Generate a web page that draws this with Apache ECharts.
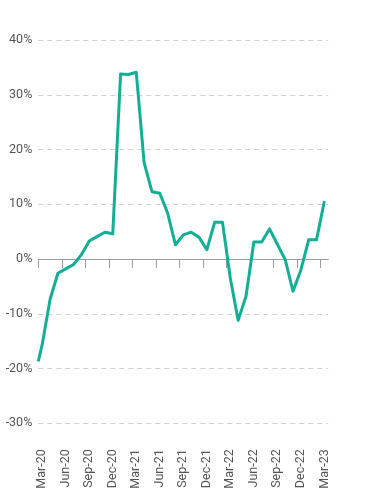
<!DOCTYPE html>
<html>
<head>
<meta charset="utf-8">
<script src="https://cdn.jsdelivr.net/npm/echarts@6/dist/echarts.min.js"></script>
<style>
html,body{margin:0;padding:0;background:#fff;}
#chart{width:368px;height:500px;}
</style>
</head>
<body>
<div id="chart"></div>
<script>
// Monthly tick labels (Mar-20 .. Mar-23)
var months = ['Mar-20','Apr-20','May-20','Jun-20','Jul-20','Aug-20','Sep-20','Oct-20','Nov-20','Dec-20',
  'Jan-21','Feb-21','Mar-21','Apr-21','May-21','Jun-21','Jul-21','Aug-21','Sep-21','Oct-21','Nov-21','Dec-21',
  'Jan-22','Feb-22','Mar-22','Apr-22','May-22','Jun-22','Jul-22','Aug-22','Sep-22','Oct-22','Nov-22','Dec-22',
  'Jan-23','Feb-23','Mar-23'];
// Monthly values (%), one per month above
var values = [-15.6,-7.4,-2.6,-1.8,-1.0,0.8,3.3,4.1,4.9,4.6,
  33.8,33.7,34.1,17.6,12.3,12.0,8.4,2.6,4.4,4.9,4.0,1.7,
  6.7,6.7,-3.5,-11.2,-6.8,3.1,3.1,5.5,2.7,-0.1,-5.9,-2.0,
  3.5,3.5,10.6];
// Value where the line enters the plot at its left edge
var edgeValue = [-18.7];
var yTicks = [-30,-20,-10,0,10,20,30,40];

var nShown = months.length;
var seriesData = [[0, edgeValue[0]]].concat(values.map(function(v,i){ return [i + 0.5, v]; }));
var tickVals = [];
for (var k = 0; k < nShown; k += 3) tickVals.push(k);

var chart = echarts.init(document.getElementById('chart'), null, {renderer:'canvas'});
chart.setOption({
  animation: false,
  backgroundColor: '#ffffff',
  textStyle: {fontFamily: 'Roboto'},
  grid: {left: 38.3, right: 39.7, top: 40, bottom: 76.7, containLabel: false, outerBoundsMode: 'none'},
  xAxis: [{
    type: 'value',
    min: 0, max: nShown,
    axisLine: {show: true, onZero: true, lineStyle: {color: '#9a9a9a', width: 1}},
    axisTick: {show: true, length: 9, customValues: tickVals, lineStyle: {color: '#9a9a9a', width: 1}},
    axisLabel: {show: false},
    splitLine: {show: false}
  },{
    type: 'category',
    data: months,
    boundaryGap: true,
    position: 'bottom',
    axisLine: {show: false, onZero: false},
    axisTick: {show: false},
    splitLine: {show: false},
    axisLabel: {interval: 2, rotate: 90, margin: 26, fontSize: 12.5, color: '#555', fontFamily: 'Roboto'}
  }],
  yAxis: {
    type: 'value',
    min: yTicks[0], max: yTicks[yTicks.length-1], interval: 10,
    axisLine: {show: false},
    axisTick: {show: false},
    axisLabel: {formatter: '{value}%', margin: 6, fontSize: 12.5, color: '#555', fontFamily: 'Roboto'},
    splitLine: {show: true, lineStyle: {color: '#d0d0d0', type: [5,4], width: 1}}
  },
  series: [{
    type: 'line',
    xAxisIndex: 0,
    data: seriesData,
    showSymbol: false,
    symbol: 'none',
    clip: true,
    lineStyle: {color: '#14ae94', width: 3, join: 'round'},
    itemStyle: {color: '#14ae94'}
  }]
});
</script>
</body>
</html>
